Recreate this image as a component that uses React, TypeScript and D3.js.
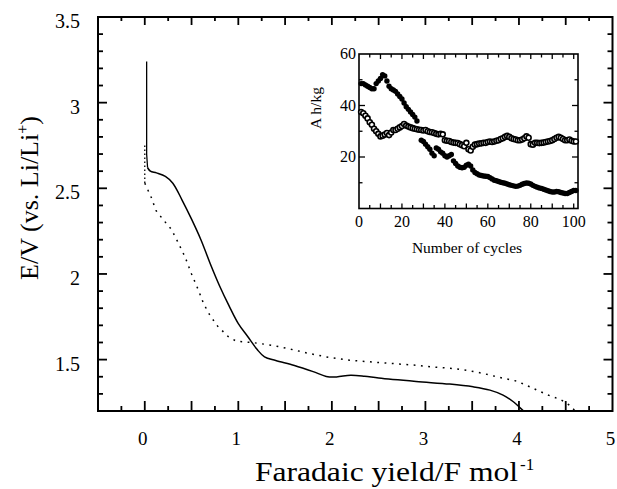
import React from "react";
import * as d3 from "d3";

// Main discharge curves: [faradaic yield, E/V]
const solidCurve: [number, number][] = [
  [0.02, 3.24], [0.02, 2.7], [0.03, 2.62], [0.06, 2.6], [0.125, 2.59], [0.22, 2.57], [0.3, 2.53],
  [0.4, 2.43], [0.5, 2.32], [0.6, 2.2], [0.7, 2.06], [0.8, 1.93], [0.9, 1.815], [1.0, 1.71],
  [1.1, 1.635], [1.2, 1.56], [1.28, 1.516], [1.4, 1.495], [1.6, 1.466], [1.8, 1.43],
  [1.94, 1.402], [2.05, 1.399], [2.2, 1.409], [2.35, 1.403], [2.5, 1.392], [2.9, 1.372],
  [3.26, 1.357], [3.51, 1.341], [3.69, 1.322], [3.83, 1.293], [3.94, 1.254], [4.01, 1.22], [4.05, 1.2],
];
const dottedCurve: [number, number][] = [
  [0.0, 2.75], [0.0, 2.53], [0.07, 2.446], [0.12, 2.37], [0.2, 2.315], [0.285, 2.26],
  [0.35, 2.19], [0.43, 2.1], [0.5, 2.0], [0.57, 1.91], [0.63, 1.825], [0.7, 1.755],
  [0.78, 1.695], [0.89, 1.635], [0.98, 1.607], [1.16, 1.599], [1.37, 1.583], [1.55, 1.562],
  [1.73, 1.539], [1.94, 1.516], [2.19, 1.496], [2.55, 1.481], [2.9, 1.467], [3.05, 1.458],
  [3.3, 1.448], [3.44, 1.438], [3.62, 1.419], [3.76, 1.4], [3.98, 1.374], [4.14, 1.335],
  [4.31, 1.293], [4.44, 1.268], [4.55, 1.231], [4.6, 1.2],
];

const xTickLabels = [0, 1, 2, 3, 4, 5];
const yTickLabels = [1.5, 2, 2.5, 3, 3.5];

// Inset: capacity (A h/kg) vs cycle number
const filledCycles = [
  1, 2, 3, 4, 5, 6, 7, 8, 9, 10, 11, 12, 13, 14, 15, 16, 17, 18, 19, 20, 21, 22, 23, 24, 25, 26, 27,
  29, 30, 31, 32, 33, 34, 35, 36, 37, 38, 39, 40, 41, 42, 43, 44, 45, 46, 47, 48, 49, 50, 51, 52,
  53, 54, 55, 56, 57, 58, 59, 60, 61, 62, 63, 64, 65, 66, 67, 68, 69, 70, 71, 72, 73, 74, 75, 76,
  77, 78, 79, 80, 81, 82, 83, 84, 85, 86, 87, 88, 89, 90, 91, 92, 93, 94, 95, 96, 97, 98, 99, 100, 101,
];
const filledValues = [
  48.5, 48.5, 48, 47.5, 47, 46.5, 46.5, 48.5, 49.5, 50.5, 52, 51.5, 49.5, 47.5, 46.5, 46, 45.5, 44.5,
  43.5, 42.5, 41, 39.5, 38.5, 37.5, 36.5, 35.5, 34,
  26.5, 26, 25, 24, 23, 21.5, 20.5, 23.5, 23, 22, 21.5, 20.5, 20, 20.5, 21, 18.5, 17.5, 16.5, 16,
  15.8, 16, 16.8, 17.2, 16.5, 15, 14, 13.5, 13, 12.8, 12.6, 12.5, 12.4, 12, 11.5, 11, 10.8, 10.5,
  10.2, 10, 9.8, 9.5, 9.2, 9, 8.8, 8.6, 8.7, 9, 9.4, 9.7, 9.9, 9.8, 9.5, 9, 8.6, 8.3, 8, 7.8, 7.5,
  7.2, 6.9, 6.6, 6.4, 6.4, 6.6, 6.5, 6.2, 6, 5.8, 5.8, 6.2, 6.6, 7, 7,
];
const openCycles = [
  1, 2, 3, 4, 5, 6, 7, 8, 9, 10, 11, 12, 13, 14, 15, 16, 17, 18, 19, 20, 21, 22, 23, 24, 25, 26, 27,
  28, 29, 30, 31, 32, 33, 34, 35, 36, 37, 38, 39, 40, 41, 42, 43, 44, 45, 46, 47, 48, 49, 50, 51, 52,
  53, 54, 55, 56, 57, 58, 59, 60, 61, 62, 63, 64, 65, 66, 67, 68, 69, 70, 71, 72, 73, 74, 75, 76,
  77, 78, 79, 80, 81, 82, 83, 84, 85, 86, 87, 88, 89, 90, 91, 92, 93, 94, 95, 96, 97, 98, 99, 100, 101,
];
const openValues = [
  37.5, 37, 36, 35, 33.5, 32.5, 31, 30, 29, 28, 28.3, 28.7, 29.3, 28.5, 29.5, 30.5, 30.5, 31, 31.5,
  32, 32.8, 32.2, 31.8, 31.5, 31.2, 31, 30.8, 30.6, 30.5, 30.3, 30.5, 30, 29.7, 29.6, 29.3, 29, 28.8,
  29, 28.8, 26.5, 26.3, 26.2, 25.8, 25.6, 25.5, 25.4, 25, 24.6, 24.2, 25.5, 23, 22.5, 24, 24.8, 25,
  25.2, 25.3, 25.5, 25.5, 25.8, 26, 25.8, 26, 26.3, 26.5, 27, 27.3, 27.8, 28.2, 27.8, 27.3, 27, 26.8,
  26.5, 26.5, 26.8, 27.3, 28, 27.5, 25, 24.8, 25.5, 25.5, 25.4, 25.5, 25.6, 25.8, 26, 26.2, 26.5, 27,
  27.5, 27.8, 27.5, 27, 26.5, 26.5, 26.8, 26.3, 26, 26,
];
const insetXTickLabels = [0, 20, 40, 60, 80, 100];
const insetYTickLabels = [20, 40, 60];

const FONT = "Liberation Serif";

export default function App() {
  const W = 617, H = 489;
  const x = d3.scaleLinear().domain([-0.5, 5]).range([98, 612.5]);
  const y = d3.scaleLinear().domain([1.2, 3.5]).range([411, 17]);
  const line = d3.line<[number, number]>().x((d) => x(d[0])).y((d) => y(d[1])).curve(d3.curveCatmullRom.alpha(0.5));
  const lineLin = d3.line<[number, number]>().x((d) => x(d[0])).y((d) => y(d[1]));

  const x0 = x.range()[0], x1 = x.range()[1], yTop = y.range()[1], yBot = y.range()[0];

  const xTicksMinor = d3.range(-0.25, 5.0001, 0.25).filter((v) => Math.abs(v * 2 - Math.round(v * 2)) > 1e-6);
  const xTicksMajor = d3.range(0, 5.0001, 0.5).filter((v) => v < 4.99);
  const yTicks = d3.range(1.3, 3.4501, 0.1);

  const ix = d3.scaleLinear().domain([0, 102]).range([359, 578]);
  const iy = d3.scaleLinear().domain([0, 60]).range([208.5, 54]);
  const ix0 = ix.range()[0], ix1 = ix.range()[1], iyTop = iy.range()[1], iyBot = iy.range()[0];
  const iTicksX = d3.range(5, 100.01, 5);
  const iTicksY = d3.range(10, 50.01, 10);

  const solidVert = solidCurve.slice(0, 3);
  const solidRest = solidCurve.slice(2);
  const dotVert = dottedCurve.slice(0, 2);
  const dotRest = dottedCurve.slice(1);

  const ts = { fontFamily: FONT };

  return (
    <svg width={W} height={H} viewBox={`0 0 ${W} ${H}`} style={{ position: "absolute", left: 0, top: 0, background: "#fff" }}>
      <defs>
        <clipPath id="mainClip">
          <rect x={x0} y={yTop} width={x1 - x0} height={yBot - yTop} />
        </clipPath>
      </defs>
      <g clipPath="url(#mainClip)" fill="none" stroke="#000">
        <path d={lineLin(solidVert) || ""} strokeWidth={1.3} />
        <path d={line(solidRest) || ""} strokeWidth={1.5} />
        <path d={lineLin(dotVert) || ""} strokeWidth={1.3} strokeDasharray="1.5,2.5" />
        <path d={lineLin(dotRest) || ""} strokeWidth={1.5} strokeDasharray="1.8,5.5" />
      </g>

      <rect x={x0} y={yTop} width={x1 - x0} height={yBot - yTop} fill="none" stroke="#000" strokeWidth={2} />

      <g stroke="#000" strokeWidth={1.8}>
        {xTicksMajor.map((v) => (
          <g key={"xm" + v}>
            <line x1={x(v)} x2={x(v)} y1={yBot} y2={yBot - 10} />
            <line x1={x(v)} x2={x(v)} y1={yTop} y2={yTop + 8} />
          </g>
        ))}
        {xTicksMinor.map((v) => (
          <g key={"xn" + v}>
            <line x1={x(v)} x2={x(v)} y1={yBot} y2={yBot - 5} />
            <line x1={x(v)} x2={x(v)} y1={yTop} y2={yTop + 4} />
          </g>
        ))}
        {yTicks.map((v) => {
          const major = Math.abs(v * 2 - Math.round(v * 2)) < 1e-6;
          const len = major ? 9 : 5;
          return (
            <g key={"y" + v}>
              <line x1={x0} x2={x0 + len} y1={y(v)} y2={y(v)} />
              <line x1={x1} x2={x1 - len} y1={y(v)} y2={y(v)} />
            </g>
          );
        })}
      </g>

      {xTickLabels.map((v) => (
        <text key={"xl" + v} x={x(v) - 2} y={445} textAnchor="middle" style={ts} fontSize={19} fill="#000">{v}</text>
      ))}
      {yTickLabels.map((v) => (
        <text key={"yl" + v} x={80} y={y(v) + 11} textAnchor="end" style={ts} fontSize={20} fill="#000">{String(v)}</text>
      ))}

      <text x={255} y={481} textAnchor="start" style={ts} fontSize={27} fill="#000" textLength={263} lengthAdjust="spacingAndGlyphs">
        Faradaic yield/F mol
      </text>
      <text x={520} y={470} textAnchor="start" style={ts} fontSize={17} fill="#000">-1</text>
      <text transform={`translate(38, ${198}) rotate(-90)`} textAnchor="middle" style={ts} fontSize={26} fill="#000">
        E/V (vs. Li/Li<tspan dy={-10} fontSize={16}>+</tspan><tspan dy={10}>)</tspan>
      </text>

      <g>
        <rect x={ix0} y={iyTop} width={ix1 - ix0} height={iyBot - iyTop} fill="#fff" stroke="#000" strokeWidth={1.6} />
        <g stroke="#000" strokeWidth={1.3}>
          {iTicksX.map((v) => {
            const len = v % 10 === 0 ? 5 : 3.5;
            return (
              <g key={"ix" + v}>
                <line x1={ix(v)} x2={ix(v)} y1={iyBot} y2={iyBot - len} />
                <line x1={ix(v)} x2={ix(v)} y1={iyTop} y2={iyTop + len} />
              </g>
            );
          })}
          {iTicksY.map((v) => {
            const len = v % 20 === 0 ? 6 : 3.5;
            return (
              <g key={"iy" + v}>
                <line x1={ix0} x2={ix0 + len} y1={iy(v)} y2={iy(v)} />
                <line x1={ix1} x2={ix1 - len} y1={iy(v)} y2={iy(v)} />
              </g>
            );
          })}
        </g>
        <g>
          {filledCycles.map((c, i) => (
            <circle key={"f" + c} cx={ix(c)} cy={iy(filledValues[i])} r={2.7} fill="#000" />
          ))}
          {openCycles.map((c, i) => (
            <circle key={"o" + c} cx={ix(c)} cy={iy(openValues[i])} r={2.5} fill="#fff" stroke="#000" strokeWidth={1.6} />
          ))}
        </g>
        {insetXTickLabels.map((v) => (
          <text key={"ixl" + v} x={ix(v)} y={227} textAnchor="middle" style={ts} fontSize={16} fill="#000">{v}</text>
        ))}
        {insetYTickLabels.map((v) => (
          <text key={"iyl" + v} x={356} y={iy(v) + 5} textAnchor="end" style={ts} fontSize={16} fill="#000">{v}</text>
        ))}
        <text x={467} y={253} textAnchor="middle" style={ts} fontSize={15.5} fill="#000">Number of cycles</text>
        <text transform={`translate(${321}, ${108}) rotate(-90)`} textAnchor="middle" style={ts} fontSize={15.5} fill="#000">A h/kg</text>
      </g>
    </svg>
  );
}
